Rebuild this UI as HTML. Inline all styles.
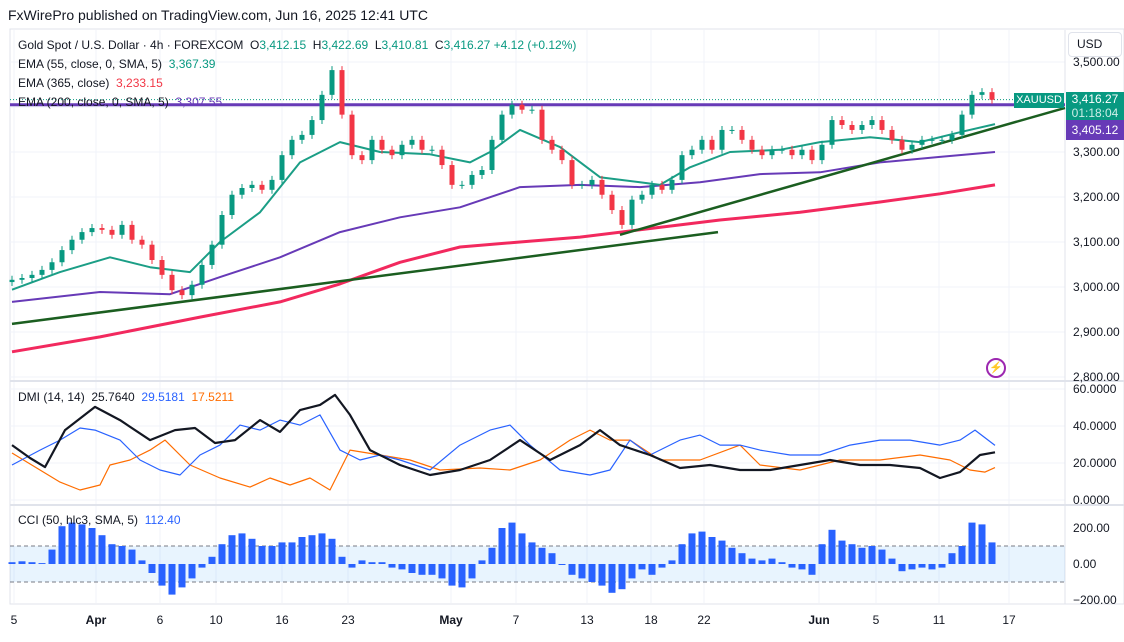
<!DOCTYPE html>
<html><head><meta charset="utf-8"><style>
body{margin:0;background:#fff;font-family:"Liberation Sans",sans-serif}
svg text{font-family:"Liberation Sans",sans-serif}
</style></head><body>
<svg id="c" width="1124" height="637" xmlns="http://www.w3.org/2000/svg">
<rect width="1124" height="637" fill="#fff"/>
<text x="8" y="20" font-size="14" fill="#131722">FxWirePro published on TradingView.com, Jun 16, 2025 12:41 UTC</text>
<rect x="10" y="29" width="1114" height="575" fill="none" stroke="#e0e3eb"/>
<g id="grid"></g>
<g id="main"></g>
<g id="dmi"></g>
<g id="cci"></g>
<g id="axes"></g>
</svg>
<script>
const closes=[3016,3020,3027,3038,3055,3082,3105,3122,3131,3127,3116,3138,3105,3094,3060,3027,2993,2982,3005,3049,3094,3160,3205,3220,3227,3216,3238,3293,3327,3338,3371,3427,3482,3383,3293,3282,3327,3305,3293,3316,3327,3305,3305,3271,3227,3227,3249,3260,3327,3383,3405,3394,3394,3327,3305,3282,3227,3227,3238,3205,3171,3138,3194,3205,3227,3216,3238,3293,3305,3327,3305,3349,3349,3327,3305,3293,3305,3305,3293,3305,3282,3316,3371,3360,3349,3360,3371,3349,3327,3305,3316,3327,3327,3327,3338,3383,3427,3433,3416];
const emaBars=[0,4.8,9.8,13.8,17.8,20.8,24.8,28.8,32.8,36.8,41.8,45.8,47.8,50.8,54.8,58.8,62.8,64.8,67.8,71.8,76.8,80.8,85.8,90.8,94.8,98.3];
const ema55=[2994,3033,3066,3044,3033,3100,3166,3277,3322,3300,3295,3277,3300,3349,3311,3244,3233,3227,3266,3300,3305,3322,3333,3322,3344,3362];
const ema200Bars=[0,8.8,15.8,20.8,26.8,32.8,38.8,44.8,50.8,56.8,62.8,68.8,74.8,80.8,86.8,92.8,98.3];
const ema200=[2967,2989,2984,3022,3066,3122,3155,3177,3222,3227,3222,3233,3251,3255,3277,3289,3300];
const ema365=[2856,2889,2933,2967,3007,3055,3089,3100,3111,3127,3149,3166,3189,3207,3227];
const ema365Bars=[0,8.8,18.8,26.8,32.8,38.8,44.8,50.8,56.8,62.8,70.8,78.8,86.8,92.8,98.3];
const dmiBars=[0,1.8,3.3,5.3,8.3,10.8,13.8,16.3,18.3,20.3,22.3,24.8,26.8,28.8,30.8,32.3,33.8,35.8,38.8,41.8,44.8,47.8,50.8,53.8,56.8,58.8,60.8,63.8,66.8,69.8,72.8,75.8,78.8,81.8,84.8,87.8,90.8,92.8,94.8,96.8,98.3];
const adx=[29.7,22.7,17.8,37.8,50.3,43.2,32.4,37.8,38.9,30.8,32.4,43.2,36.8,48.6,51.4,56.8,46,27,18.9,13.5,16.2,21.6,32.4,21.6,29.7,37.8,29.7,24.3,17.3,18.9,16.2,16.2,18.9,21.6,18.9,18.9,17.3,11.9,15.1,24.3,25.8];
const diPlusBars=[0,2.8,4.8,6.8,8.3,10.8,12.8,14.8,16.8,18.8,20.8,22.8,24.8,26.8,28.8,30.8,32.8,34.8,36.8,38.8,41.8,44.8,47.8,49.8,51.8,54.8,57.8,59.8,61.8,63.8,66.8,68.8,70.8,72.8,74.8,77.8,80.8,83.8,86.8,89.8,92.8,94.8,96.3,98.3];
const diPlus=[18.9,27,32.4,38.9,37.8,32.4,21.6,16.2,13.5,24.3,29.7,40.5,37.8,43.2,40.5,46,27,21.6,24.3,21.6,16.2,29.7,37.8,40.5,29.7,16.2,13.5,16.2,32.4,24.3,32.4,35.1,29.7,29.7,27,24.3,24.3,29.7,32.4,32.4,29.7,32.4,37.8,29.5];
const diMinusBars=[0,2.8,4.8,6.8,8.8,9.8,11.8,13.8,15.3,17.8,20.8,23.8,25.8,27.8,29.8,31.8,33.8,36.8,39.8,42.8,46.8,49.8,52.8,55.8,57.8,59.8,61.8,64.8,68.8,72.8,74.8,78.8,82.8,86.8,90.8,93.8,95.8,97.3,98.3];
const diMinus=[25.4,16.2,9.7,5.4,8.1,18.9,21.6,27,32.4,18.9,11.9,7,11.9,8.1,11.9,5.4,27,24.3,21.6,16.2,17.3,16.2,21.6,32.4,37.8,32.4,32.4,21.6,21.6,29.7,18.9,16.2,21.6,21.6,24.3,21.6,16.2,15.1,17.5];
const cci=[10,15,10,5,80,210,230,220,200,160,110,100,80,20,-50,-120,-170,-130,-80,-20,40,110,160,170,140,100,100,120,120,150,160,170,140,40,-20,20,10,10,-20,-30,-50,-60,-60,-80,-120,-130,-80,20,90,200,230,170,120,90,60,0,-60,-80,-100,-120,-160,-140,-80,-30,-60,-20,20,110,170,180,150,130,90,60,30,20,30,10,-20,-30,-60,110,190,130,110,90,100,80,30,-40,-30,-20,-30,-20,60,100,230,220,120];
const priceTicks=[3500,3400,3300,3200,3100,3000,2900,2800];
const priceTickLabels=["3,500.00","","3,300.00","3,200.00","3,100.00","3,000.00","2,900.00","2,800.00"];
const dmiTicks=[60,40,20,0];
const dmiTickLabels=["60.0000","40.0000","20.0000","0.0000"];
const cciTicks=[200,0,-200];
const cciTickLabels=["200.00","0.00","\u2212200.00"];
const dateBars=[0.2,8.4,14.8,20.4,27,33.6,43.9,50.4,57.5,63.9,69.2,80.7,86.4,92.7,99.7];
const dateLabels=["5","Apr","6","10","16","23","May","7","13","18","22","Jun","5","11","17"];
const hLevel=3405.12, lastPrice=3416.27;
const trend1=[[0,2918],[70.6,3122]], trend2=[[60.8,3116],[105.3,3398]];

const NS="http://www.w3.org/2000/svg";
const X=i=>12+10*i;
const PY=p=>62+(3500-p)*0.45;
const DY=v=>500-v*1.85;
const CY=v=>564-v*0.18;
function mk(t,a,parent){const e=document.createElementNS(NS,t);for(const k in a)e.setAttribute(k,a[k]);document.getElementById(parent).appendChild(e);return e;}
function poly(bars,vals,fy,color,w,parent,name){
  const pts=bars.map((b,i)=>X(b).toFixed(1)+","+fy(vals[i]).toFixed(1)).join(" ");
  const e=mk("polyline",{points:pts,fill:"none",stroke:color,"stroke-width":w,"stroke-linejoin":"round"},parent);
  
  
}
// grid
dateBars.forEach((b,i)=>{const l=mk("line",{x1:X(b),x2:X(b),y1:30,y2:603,stroke:"#f0f3fa"},"grid");


const t=mk("text",{x:X(b),y:624,"font-size":12,"text-anchor":"middle",fill:"#131722","font-weight":dateLabels[i].length==3?"bold":"normal"},"axes");t.textContent=dateLabels[i];

});
priceTicks.forEach((p,i)=>{const l=mk("line",{x1:10,x2:1065,y1:PY(p),y2:PY(p),stroke:"#f0f3fa"},"grid");


if(priceTickLabels[i]){const t=mk("text",{x:1073,y:PY(p)+4,"font-size":12,fill:"#131722"},"axes");t.textContent=priceTickLabels[i];

}});
dmiTicks.forEach((v,i)=>{const l=mk("line",{x1:10,x2:1065,y1:DY(v),y2:DY(v),stroke:"#f0f3fa"},"grid");


const t=mk("text",{x:1073,y:DY(v)+4,"font-size":12,fill:"#131722"},"axes");t.textContent=dmiTickLabels[i];

});
cciTicks.forEach((v,i)=>{const t=mk("text",{x:1073,y:CY(v)+4,"font-size":12,fill:"#131722"},"axes");t.textContent=cciTickLabels[i];

});
[381,505].forEach(y=>{const l=mk("line",{x1:10,x2:1124,y1:y,y2:y,stroke:"#e0e3eb","stroke-width":2},"grid");

});
const ax=mk("line",{x1:1065,x2:1065,y1:30,y2:604,stroke:"#e0e3eb"},"grid");


// main pane
const hl=mk("line",{x1:10,x2:1065,y1:PY(hLevel),y2:PY(hLevel),stroke:"#673ab7","stroke-width":3},"main");


const dl=mk("line",{x1:10,x2:1065,y1:PY(lastPrice),y2:PY(lastPrice),stroke:"#089981","stroke-dasharray":"1 2"},"main");


poly(ema365Bars,ema365,PY,"#f2295e",3,"main","ema-365-line");
poly(ema200Bars,ema200,PY,"#673ab7",2,"main","ema-200-line");
poly(emaBars,ema55,PY,"#1b9e86",2,"main","ema-55-line");
[trend1,trend2].forEach(t=>{const l=mk("line",{x1:X(t[0][0]),y1:PY(t[0][1]),x2:X(t[1][0]),y2:PY(t[1][1]),stroke:"#1b5e20","stroke-width":2.5},"main");

});
closes.forEach((c,i)=>{const o=i?closes[i-1]:c-5;const up=c>=o;const col=up?"#089981":"#f23645";
const hi=Math.max(o,c),lo=Math.min(o,c);
const w=mk("line",{x1:X(i),x2:X(i),y1:PY(hi)-4,y2:PY(lo)+4,stroke:col},"main");


const r=mk("rect",{x:X(i)-2.5,y:PY(hi),width:5,height:Math.max(1,PY(lo)-PY(hi)),fill:col},"main");

});
// dmi
poly(diMinusBars,diMinus,DY,"#ff6d00",1.2,"dmi","di-minus-line");
poly(diPlusBars,diPlus,DY,"#2962ff",1.2,"dmi","di-plus-line");
poly(dmiBars,adx,DY,"#131722",2.2,"dmi","adx-line");
// cci
const band=mk("rect",{x:10,y:CY(100),width:1055,height:CY(-100)-CY(100),fill:"#2196f3","fill-opacity":0.1},"cci");


[100,-100].forEach(v=>{const l=mk("line",{x1:10,x2:1065,y1:CY(v),y2:CY(v),stroke:"#787b86","stroke-dasharray":"4 3"},"cci");

});
cci.forEach((v,i)=>{const y0=CY(0),y1=CY(v);const r=mk("rect",{x:X(i)-3.5,y:Math.min(y0,y1),width:7,height:Math.abs(y1-y0)||1,fill:"#2962ff"},"cci");

});
</script>
<div style="position:absolute;left:18px;top:36px;font-size:12px;color:#131722;line-height:19px;font-family:'Liberation Sans',sans-serif">
<div>Gold Spot / U.S. Dollar · 4h · FOREXCOM &nbsp;O<span style="color:#089981">3,412.15</span> &nbsp;H<span style="color:#089981">3,422.69</span> &nbsp;L<span style="color:#089981">3,410.81</span> &nbsp;C<span style="color:#089981">3,416.27</span> <span style="color:#089981">+4.12 (+0.12%)</span></div>
<div>EMA (55, close, 0, SMA, 5) &nbsp;<span style="color:#089981">3,367.39</span></div>
<div>EMA (365, close) &nbsp;<span style="color:#f23645">3,233.15</span></div>
<div>EMA (200, close, 0, SMA, 5) &nbsp;<span style="color:#673ab7">3,307.55</span></div>
</div>
<div style="position:absolute;left:18px;top:390px;font-size:12px;color:#131722;font-family:'Liberation Sans',sans-serif">DMI (14, 14) &nbsp;25.7640 &nbsp;<span style="color:#2962ff">29.5181</span> &nbsp;<span style="color:#ff6d00">17.5211</span></div>
<div style="position:absolute;left:18px;top:513px;font-size:12px;color:#131722;font-family:'Liberation Sans',sans-serif">CCI (50, hlc3, SMA, 5) &nbsp;<span style="color:#2962ff">112.40</span></div>
<div style="position:absolute;left:1068px;top:32px;width:52px;height:23px;border:1px solid #e0e3eb;border-radius:4px;font-size:12px;line-height:23px;text-indent:8px;color:#131722;background:#fff;font-family:'Liberation Sans',sans-serif">USD</div>
<div style="position:absolute;left:1014px;top:93px;width:50px;height:15px;background:#089981;color:#fff;font-size:11px;line-height:15px;text-align:center;font-family:'Liberation Sans',sans-serif">XAUUSD</div>
<div style="position:absolute;left:1066px;top:92px;width:58px;height:28px;background:#089981;color:#fff;font-size:12px;line-height:14px;text-align:center;font-family:'Liberation Sans',sans-serif">3,416.27<br><span style="color:#cdeee8">01:18:04</span></div>
<div style="position:absolute;left:1066px;top:120px;width:58px;height:20px;background:#673ab7;color:#fff;font-size:12px;line-height:20px;text-align:center;font-family:'Liberation Sans',sans-serif">3,405.12</div>
<div style="position:absolute;left:986px;top:358px;width:16px;height:16px;border:2px solid #9c27b0;border-radius:50%;color:#9c27b0;font-size:11px;line-height:16px;text-align:center">⚡</div>
</body></html>
